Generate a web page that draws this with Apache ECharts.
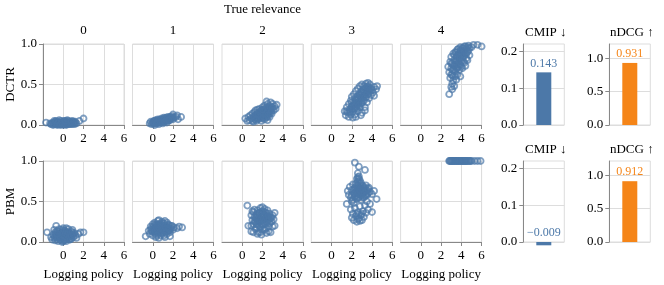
<!DOCTYPE html>
<html><head><meta charset="utf-8">
<script src="https://cdn.jsdelivr.net/npm/echarts@6/dist/echarts.min.js"></script>
<style>html,body{margin:0;padding:0;background:#fff}#c{width:664px;height:285px}</style>
</head><body><div id="c"></div>
<script>
// ---- data ----
const relevanceLevels = ['0', '1', '2', '3', '4'];
const methods = ['DCTR', 'PBM'];
const xTickLabels = [0, 2, 4, 6];

const dctrRel0 = [[-1.7,0.03],[-1.3,0.02],[-1.2,0.01],[-1.0,0.03],[-1.0,0.0],[-0.9,0.02],[-0.8,0.04],[-0.8,0.01],[-0.7,0.02],[-0.6,0.03],[-0.6,0.0],[-0.5,0.01],[-0.5,0.04],[-0.4,0.02],[-0.3,0.03],[-0.3,0.0],[-0.2,0.05],[-0.2,0.01],[-0.1,0.02],[0.0,0.04],[0.0,0.0],[0.1,0.02],[0.1,0.05],[0.2,0.01],[0.2,0.03],[0.3,0.04],[0.3,0.0],[0.4,0.02],[0.5,0.05],[0.5,0.01],[0.6,0.03],[0.7,0.04],[0.7,0.01],[0.8,0.02],[0.9,0.05],[1.0,0.03],[1.1,0.01],[1.2,0.04],[1.3,0.02],[1.6,0.05],[2.0,0.08],[-0.9,0.05],[0.4,0.06],[-0.4,0.06],
  [-1.1,0.02],[-0.95,0.01],[-0.75,0.03],[-0.65,0.01],[-0.55,0.02],[-0.45,0.03],[-0.35,0.01],[-0.25,0.02],[-0.15,0.03],[-0.05,0.01],[0.05,0.03],[0.15,0.01],[0.25,0.02],[0.35,0.03],[0.45,0.01],[0.55,0.03],[0.65,0.02],[0.75,0.03],[0.85,0.01],[0.95,0.02],[1.05,0.04],[1.15,0.02],[-0.7,0.05],[0.2,0.05],[0.8,0.04]];
const dctrRel1 = [[-0.3,0.02],[-0.2,0.04],[-0.1,0.01],[0.0,0.03],[0.1,0.05],[0.1,0.02],[0.2,0.04],[0.3,0.02],[0.3,0.06],[0.4,0.04],[0.5,0.03],[0.5,0.07],[0.6,0.05],[0.7,0.03],[0.7,0.07],[0.8,0.05],[0.9,0.08],[0.9,0.04],[1.0,0.06],[1.1,0.09],[1.1,0.04],[1.2,0.07],[1.3,0.05],[1.3,0.09],[1.4,0.07],[1.5,0.1],[1.5,0.05],[1.6,0.08],[1.7,0.06],[1.7,0.1],[1.8,0.08],[1.9,0.11],[2.0,0.07],[2.0,0.13],[2.1,0.09],[2.3,0.1],[2.5,0.07],[2.4,0.12],[2.8,0.1],[0.2,0.0],[0.6,0.01],[1.0,0.02],[1.4,0.03],
  [0.05,0.04],[0.15,0.03],[0.25,0.05],[0.35,0.04],[0.45,0.05],[0.55,0.05],[0.65,0.06],[0.75,0.05],[0.85,0.06],[0.95,0.07],[1.05,0.06],[1.15,0.07],[1.25,0.08],[1.35,0.06],[1.45,0.08],[1.55,0.07],[1.65,0.09],[1.75,0.08],[1.85,0.09],[1.95,0.09],[0.4,0.02],[0.8,0.03],[1.2,0.04],[1.6,0.06]];
const dctrRel2 = [[0.3,0.08],[0.5,0.05],[0.6,0.1],[0.7,0.06],[0.8,0.12],[0.9,0.08],[1.0,0.05],[1.0,0.14],[1.1,0.1],[1.2,0.07],[1.2,0.16],[1.3,0.12],[1.4,0.05],[1.4,0.09],[1.5,0.15],[1.5,0.19],[1.6,0.11],[1.6,0.07],[1.7,0.14],[1.7,0.2],[1.8,0.1],[1.8,0.17],[1.9,0.05],[1.9,0.13],[2.0,0.22],[2.0,0.16],[2.0,0.09],[2.1,0.12],[2.1,0.19],[2.2,0.07],[2.2,0.24],[2.3,0.15],[2.3,0.21],[2.4,0.1],[2.4,0.18],[2.5,0.26],[2.5,0.13],[2.6,0.21],[2.6,0.16],[2.7,0.24],[2.7,0.1],[2.8,0.19],[2.8,0.28],[2.9,0.14],[2.9,0.22],[3.0,0.26],[3.1,0.18],[3.2,0.23],[3.3,0.2],[3.4,0.25],[2.4,0.29],[1.3,0.18],[1.1,0.04],[2.5,0.06],
  [1.2,0.1],[1.4,0.13],[1.5,0.08],[1.6,0.14],[1.7,0.09],[1.75,0.12],[1.85,0.15],[1.9,0.18],[1.95,0.08],[2.05,0.13],[2.1,0.16],[2.15,0.1],[2.2,0.14],[2.25,0.18],[2.3,0.12],[2.35,0.09],[2.4,0.15],[2.45,0.21],[2.5,0.17],[2.55,0.11],[2.6,0.19],[2.65,0.14],[2.7,0.18],[2.75,0.22],[2.8,0.15],[2.9,0.18],[3.0,0.21],[1.55,0.12],[1.35,0.07],[2.0,0.19]];
const dctrRel3 = [[1.3,0.17],[1.4,0.12],[1.5,0.22],[1.6,0.15],[1.7,0.26],[1.7,0.1],[1.8,0.19],[1.9,0.3],[1.9,0.13],[2.0,0.23],[2.0,0.35],[2.1,0.17],[2.1,0.09],[2.2,0.27],[2.2,0.38],[2.3,0.2],[2.3,0.13],[2.4,0.31],[2.4,0.42],[2.5,0.24],[2.5,0.35],[2.6,0.17],[2.6,0.45],[2.7,0.28],[2.7,0.38],[2.8,0.22],[2.8,0.48],[2.9,0.33],[2.9,0.41],[3.0,0.27],[3.0,0.5],[3.0,0.15],[3.1,0.36],[3.1,0.44],[3.2,0.3],[3.2,0.48],[3.3,0.4],[3.3,0.22],[3.4,0.34],[3.4,0.51],[3.5,0.44],[3.5,0.28],[3.6,0.38],[3.6,0.48],[3.7,0.42],[3.7,0.33],[3.8,0.5],[3.9,0.45],[3.9,0.37],[4.0,0.43],[4.1,0.4],[4.2,0.47],[4.4,0.44],[4.5,0.48],[2.4,0.1],[2.9,0.12],[1.5,0.17],[3.6,0.52],[3.3,0.18],[4.2,0.36],
  [1.8,0.16],[2.0,0.19],[2.1,0.24],[2.2,0.2],[2.3,0.26],[2.4,0.22],[2.4,0.27],[2.5,0.3],[2.5,0.2],[2.6,0.26],[2.6,0.33],[2.7,0.24],[2.7,0.33],[2.8,0.3],[2.8,0.37],[2.9,0.27],[2.9,0.37],[3.0,0.33],[3.0,0.4],[3.1,0.3],[3.1,0.4],[3.2,0.36],[3.2,0.42],[3.3,0.34],[3.3,0.45],[3.4,0.4],[3.5,0.38],[3.5,0.47],[3.6,0.43],[3.7,0.46],[3.8,0.42],[2.3,0.33],[2.0,0.28],[1.9,0.21]];
const dctrRel4 = [[2.7,0.72],[2.8,0.65],[2.9,0.78],[2.9,0.58],[3.0,0.7],[3.0,0.84],[3.1,0.62],[3.1,0.76],[3.2,0.55],[3.2,0.68],[3.2,0.88],[3.3,0.73],[3.3,0.8],[3.4,0.6],[3.4,0.66],[3.4,0.9],[3.5,0.75],[3.5,0.84],[3.6,0.7],[3.6,0.62],[3.6,0.93],[3.7,0.78],[3.7,0.87],[3.8,0.68],[3.8,0.82],[3.9,0.92],[3.9,0.74],[4.0,0.86],[4.0,0.79],[4.1,0.95],[4.1,0.7],[4.2,0.84],[4.2,0.9],[4.3,0.77],[4.3,0.97],[4.4,0.88],[4.5,0.82],[4.5,0.94],[4.6,0.9],[4.7,0.98],[4.8,0.86],[4.8,0.95],[5.0,0.96],[5.2,0.99],[5.6,0.99],[6.0,0.97],[3.1,0.44],[2.8,0.38],[3.1,0.51],[3.3,0.48],[3.0,0.47],[3.5,0.56],[4.4,0.73],[3.9,0.6],[4.6,0.8],
  [3.0,0.76],[3.1,0.68],[3.2,0.74],[3.3,0.67],[3.3,0.86],[3.4,0.78],[3.5,0.7],[3.5,0.9],[3.6,0.8],[3.6,0.86],[3.7,0.72],[3.7,0.94],[3.8,0.88],[3.8,0.76],[3.9,0.83],[3.9,0.96],[4.0,0.92],[4.0,0.72],[4.1,0.82],[4.1,0.88],[4.2,0.95],[4.2,0.78],[4.3,0.86],[4.3,0.92],[4.4,0.97],[4.5,0.88],[4.6,0.96],[4.7,0.92],[3.4,0.74],[3.2,0.6],[3.0,0.62]];

const pbmRel0 = [[-1.6,0.12],[-1.2,0.06],[-1.1,0.03],[-1.0,0.09],[-0.9,0.05],[-0.8,0.12],[-0.8,0.02],[-0.7,0.2],[-0.7,0.08],[-0.6,0.04],[-0.6,0.14],[-0.5,0.1],[-0.5,0.01],[-0.4,0.06],[-0.4,0.16],[-0.3,0.09],[-0.3,0.03],[-0.2,0.12],[-0.2,0.06],[-0.1,0.15],[-0.1,0.0],[0.0,0.08],[0.0,0.04],[0.1,0.11],[0.1,0.02],[0.2,0.14],[0.2,0.06],[0.3,0.09],[0.3,0.01],[0.4,0.12],[0.4,0.05],[0.5,0.16],[0.5,0.08],[0.6,0.03],[0.6,0.11],[0.7,0.07],[0.8,0.13],[0.8,0.04],[0.9,0.09],[1.0,0.06],[1.1,0.11],[1.2,0.08],[1.3,0.05],[1.5,0.1],[1.7,0.12],[2.0,0.12],[0.3,0.17],[-0.9,0.15],[0.9,0.15],[0.0,0.17],
  [-0.9,0.08],[-0.8,0.06],[-0.7,0.11],[-0.6,0.07],[-0.5,0.13],[-0.5,0.05],[-0.4,0.09],[-0.3,0.12],[-0.3,0.06],[-0.2,0.09],[-0.1,0.05],[-0.1,0.1],[0.0,0.12],[0.0,0.01],[0.1,0.07],[0.1,0.14],[0.2,0.1],[0.2,0.03],[0.3,0.12],[0.3,0.06],[0.4,0.09],[0.5,0.12],[0.5,0.04],[0.6,0.07],[0.7,0.1],[0.7,0.03],[0.8,0.08],[0.9,0.12],[1.0,0.09],[-0.2,0.02],[-0.6,0.1]];
const pbmRel1 = [[-0.7,0.07],[-0.4,0.14],[-0.3,0.1],[-0.2,0.19],[-0.1,0.13],[0.0,0.22],[0.0,0.08],[0.1,0.16],[0.2,0.11],[0.2,0.24],[0.3,0.18],[0.3,0.06],[0.4,0.14],[0.4,0.21],[0.5,0.26],[0.5,0.1],[0.6,0.17],[0.6,0.05],[0.7,0.22],[0.7,0.13],[0.8,0.19],[0.8,0.08],[0.9,0.25],[0.9,0.15],[1.0,0.11],[1.0,0.2],[1.1,0.17],[1.1,0.23],[1.2,0.13],[1.2,0.06],[1.3,0.2],[1.3,0.16],[1.4,0.24],[1.4,0.1],[1.5,0.18],[1.6,0.14],[1.6,0.21],[1.7,0.12],[1.8,0.17],[1.9,0.2],[2.0,0.15],[2.1,0.18],[2.4,0.17],[2.6,0.19],[2.9,0.18],[1.7,0.07],[0.6,0.27],[1.2,0.26],
  [-0.2,0.15],[-0.1,0.17],[0.0,0.13],[0.1,0.2],[0.2,0.14],[0.2,0.18],[0.3,0.22],[0.3,0.13],[0.4,0.17],[0.5,0.14],[0.5,0.2],[0.6,0.22],[0.6,0.12],[0.7,0.17],[0.8,0.14],[0.8,0.22],[0.9,0.18],[0.9,0.11],[1.0,0.16],[1.0,0.23],[1.1,0.13],[1.2,0.19],[1.3,0.12],[1.4,0.17],[1.5,0.14],[1.5,0.21],[1.6,0.17],[1.7,0.15],[1.8,0.2],[0.4,0.08],[1.1,0.08]];
const pbmRel2 = [[0.5,0.45],[0.9,0.33],[0.9,0.2],[1.0,0.27],[1.1,0.37],[1.1,0.22],[1.2,0.31],[1.2,0.4],[1.3,0.25],[1.3,0.16],[1.4,0.34],[1.4,0.29],[1.5,0.39],[1.5,0.21],[1.6,0.3],[1.6,0.12],[1.7,0.36],[1.7,0.25],[1.8,0.42],[1.8,0.18],[1.9,0.31],[1.9,0.09],[2.0,0.27],[2.0,0.38],[2.1,0.22],[2.1,0.33],[2.2,0.41],[2.2,0.15],[2.3,0.29],[2.3,0.36],[2.4,0.24],[2.4,0.11],[2.5,0.32],[2.5,0.39],[2.6,0.27],[2.6,0.19],[2.7,0.35],[2.8,0.3],[2.8,0.12],[2.9,0.25],[3.0,0.33],[3.1,0.28],[3.2,0.36],[3.2,0.2],[0.9,0.13],[1.5,0.1],[2.0,0.15],[2.6,0.13],[1.0,0.38],[2.0,0.43],[0.6,0.2],[1.1,0.12],[3.0,0.19],
  [1.3,0.3],[1.4,0.22],[1.5,0.27],[1.5,0.33],[1.6,0.25],[1.6,0.36],[1.7,0.3],[1.7,0.19],[1.8,0.27],[1.8,0.34],[1.9,0.22],[1.9,0.37],[2.0,0.31],[2.0,0.21],[2.1,0.28],[2.1,0.38],[2.2,0.25],[2.2,0.33],[2.3,0.22],[2.4,0.3],[2.4,0.36],[2.5,0.26],[2.6,0.32],[2.7,0.29],[2.7,0.23],[2.9,0.3],[1.2,0.25],[1.8,0.12],[2.3,0.17],[1.4,0.18]];
const pbmRel3 = [[2.3,0.98],[2.7,0.93],[3.3,0.89],[2.6,0.85],[2.7,0.81],[2.5,0.78],[2.8,0.76],[1.6,0.63],[1.7,0.58],[1.8,0.68],[1.9,0.55],[2.0,0.64],[2.1,0.71],[2.1,0.52],[2.2,0.6],[2.3,0.67],[2.3,0.56],[2.4,0.72],[2.4,0.62],[2.5,0.53],[2.5,0.66],[2.6,0.59],[2.6,0.7],[2.7,0.63],[2.7,0.55],[2.8,0.68],[2.8,0.6],[2.9,0.73],[2.9,0.52],[3.0,0.64],[3.0,0.57],[3.1,0.69],[3.1,0.6],[3.2,0.55],[3.2,0.66],[3.3,0.62],[3.4,0.7],[3.4,0.58],[3.5,0.64],[3.6,0.6],[3.7,0.67],[3.8,0.62],[4.0,0.59],[4.2,0.63],[4.45,0.53],[1.5,0.47],[1.9,0.4],[2.0,0.3],[2.1,0.35],[2.2,0.27],[2.3,0.42],[2.4,0.32],[2.5,0.25],[2.6,0.37],[2.7,0.29],[2.8,0.44],[2.9,0.33],[3.0,0.27],[3.1,0.38],[3.2,0.31],[3.3,0.45],[3.4,0.36],[3.6,0.4],[3.8,0.47],[4.0,0.37],[2.2,0.48],[3.5,0.5],[2.0,0.5],
  [2.0,0.58],[2.2,0.65],[2.3,0.61],[2.4,0.57],[2.5,0.62],[2.5,0.7],[2.6,0.64],[2.6,0.55],[2.7,0.67],[2.7,0.6],[2.8,0.64],[2.8,0.72],[2.9,0.58],[2.9,0.66],[3.0,0.61],[3.0,0.7],[3.1,0.55],[3.1,0.65],[3.2,0.61],[3.3,0.67],[3.3,0.57],[3.4,0.63],[3.5,0.58],[3.6,0.66],[2.6,0.75],[2.7,0.78],[2.6,0.8],[2.5,0.35],[2.7,0.34],[2.8,0.26],[2.6,0.28],[3.0,0.35]];
const pbmRel4 = [[2.8,1],[2.85,1],[2.95,1],[3.0,1],[3.1,1],[3.15,1],[3.25,1],[3.3,1],[3.4,1],[3.5,1],[3.55,1],[3.65,1],[3.7,1],[3.8,1],[3.9,1],[3.95,1],[4.05,1],[4.1,1],[4.2,1],[4.3,1],[4.35,1],[4.45,1],[4.5,1],[4.6,1],[4.7,1],[4.8,1],[4.9,1],[5.0,1],[5.3,1],[5.6,1],[5.9,1]];

const scatterData = [
  [dctrRel0, dctrRel1, dctrRel2, dctrRel3, dctrRel4],
  [pbmRel0, pbmRel1, pbmRel2, pbmRel3, pbmRel4]
];
const cmipValues = [0.143, -0.009];
const ndcgValues = [0.931, 0.912];
const cmipTitle = 'CMIP ↓';
const ndcgTitle = 'nDCG ↑';

// ---- layout ----
const FONT = 'Liberation Serif';
const colLeft = [43, 132.5, 222, 311.3, 400.6];
const rowTop = [44, 161];
const W = 81, H = 81;
const cmipLeft = 523.3, ndcgLeft = 609.3, barW = 41;
const BLUE = '#4c78a8', ORANGE = '#f58518';
const AX = '#888', GRID = '#ddd';

const grids = [], xAxes = [], yAxes = [], series = [], graphics = [];
const labelStyle = {color: '#000', fontFamily: FONT, fontSize: 13};

for (let r = 0; r < 2; r++) {
  for (let c = 0; c < 5; c++) {
    const idx = grids.length;
    grids.push({left: colLeft[c], top: rowTop[r], width: W, height: H, show: true, borderColor: GRID, borderWidth: 1, containLabel: false});
    xAxes.push({
      gridIndex: idx, type: 'value', min: -2, max: 6, interval: 2,
      axisLine: {show: true, onZero: false, lineStyle: {color: AX, width: 1}},
      axisTick: {show: true, length: 4, lineStyle: {color: AX}, customValues: xTickLabels},
      axisLabel: Object.assign({margin: 7, customValues: xTickLabels, formatter: v => (v < 0 ? '' : String(v))}, labelStyle),
      splitLine: {show: true, lineStyle: {color: GRID}},
      name: r === 1 ? 'Logging policy' : '', nameLocation: 'middle', nameGap: 26,
      nameTextStyle: {color: '#000', fontFamily: FONT, fontSize: 13}
    });
    yAxes.push({
      gridIndex: idx, type: 'value', min: 0, max: 1, interval: 0.5,
      axisLine: {show: c === 0, onZero: false, lineStyle: {color: AX, width: 1}},
      axisTick: {show: c === 0, length: 4, lineStyle: {color: AX}},
      axisLabel: Object.assign({show: c === 0, margin: 6, formatter: v => v.toFixed(1)}, labelStyle),
      splitLine: {show: true, lineStyle: {color: GRID}},
      name: c === 0 ? methods[r] : '', nameLocation: 'middle', nameRotate: 90, nameGap: 24,
      nameTextStyle: {color: '#000', fontFamily: FONT, fontSize: 13}
    });
    series.push({
      type: 'scatter', xAxisIndex: idx, yAxisIndex: idx, data: scatterData[r][c],
      symbol: 'circle', symbolSize: 6, clip: false, silent: true,
      itemStyle: {color: 'rgba(255,255,255,0)', borderColor: BLUE, borderWidth: 1.8, opacity: 0.7}
    });
    if (r === 0) {
      graphics.push({type: 'text', x: colLeft[c] + W / 2, y: 31, style: {text: relevanceLevels[c], fill: '#000', font: '13px ' + FONT, textAlign: 'center', textVerticalAlign: 'middle'}});
    }
  }
}
graphics.push({type: 'text', x: colLeft[2] + W / 2, y: 10, style: {text: 'True relevance', fill: '#000', font: '13px ' + FONT, textAlign: 'center', textVerticalAlign: 'middle'}});

function addBar(left, value, r, color, max, interval, title) {
  const idx = grids.length;
  grids.push({left: left, top: rowTop[r], width: barW, height: H, show: true, borderColor: GRID, borderWidth: 1});
  xAxes.push({gridIndex: idx, type: 'category', data: [title], axisLine: {show: false}, axisTick: {show: false}, axisLabel: {show: false}, splitLine: {show: false}});
  yAxes.push({
    gridIndex: idx, type: 'value', min: 0, max: max, interval: interval,
    axisLine: {show: true, onZero: false, lineStyle: {color: AX}},
    axisTick: {show: true, length: 4, lineStyle: {color: AX}},
    axisLabel: Object.assign({margin: 6, showMaxLabel: false, formatter: v => v.toFixed(1)}, labelStyle),
    splitLine: {show: true, showMaxLine: false, lineStyle: {color: GRID}}
  });
  series.push({
    type: 'bar', xAxisIndex: idx, yAxisIndex: idx, data: [value], barWidth: 15, clip: false, silent: true,
    itemStyle: {color: color},
    label: {show: true, position: 'top', distance: 3, color: color, fontFamily: FONT, fontSize: 12,
      formatter: p => (p.value < 0 ? '\u2212' + Math.abs(p.value).toFixed(3) : p.value.toFixed(3))}
  });
  graphics.push({type: 'text', x: left + barW / 2 + 2, y: rowTop[r] - 11, style: {text: title, fill: '#000', font: '13px ' + FONT, textAlign: 'center', textVerticalAlign: 'middle'}});
}
for (let r = 0; r < 2; r++) {
  addBar(cmipLeft, cmipValues[r], r, BLUE, 0.22, 0.1, cmipTitle);
  addBar(ndcgLeft, ndcgValues[r], r, ORANGE, 1.215, 0.5, ndcgTitle);
}

const chart = echarts.init(document.getElementById('c'), null, {renderer: 'canvas'});
chart.setOption({
  animation: false,
  backgroundColor: '#fff',
  textStyle: {fontFamily: FONT},
  grid: grids, xAxis: xAxes, yAxis: yAxes, series: series, graphic: graphics
});
</script></body></html>
